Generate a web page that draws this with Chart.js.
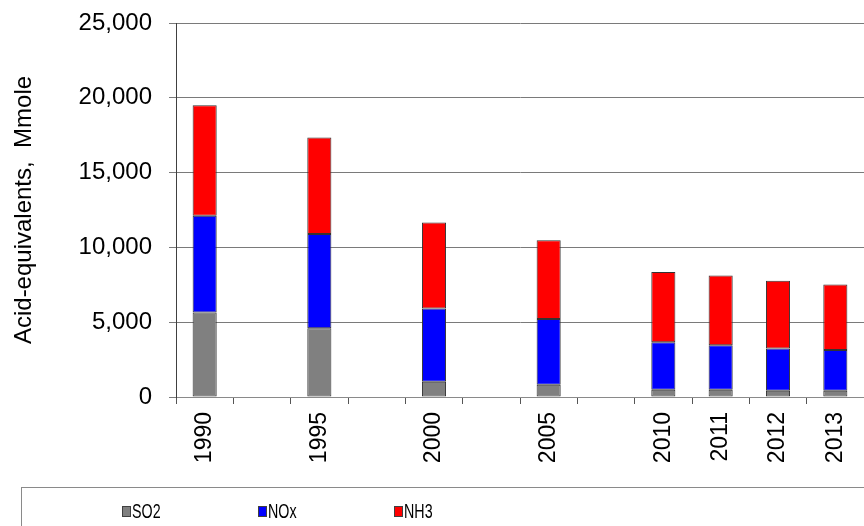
<!DOCTYPE html>
<html lang="en">
<head>
    <meta charset="UTF-8">
    <title>Acid-equivalents</title>
    <script src="https://cdn.jsdelivr.net/npm/chart.js"></script>
    <style>
        body { margin: 0; background: #fff; }
        #wrap { width: 864px; height: 526px; }
    </style>
</head>
<body>
    <div id="wrap"><canvas id="acidChart" width="864" height="526"></canvas></div>

    <script>
        // Categories (blank slots keep the 5-year gaps)
        const years = ['1990', '', '1995', '', '2000', '', '2005', '', '2010', '2011', '2012', '2013'];

        // Series values, Mmole acid-equivalents
        const so2 = [5650, null, 4600, null, 1020, null, 820, null, 490, 480, 420, 410];
        const nox = [6470, null, 6300, null, 4900, null, 4400, null, 3170, 2980, 2815, 2740];
        const nh3 = [7390, null, 6450, null, 5750, null, 5250, null, 4690, 4665, 4535, 4370];

        // y axis tick labels
        const yTickLabels = ['0', '5,000', '10,000', '15,000', '20,000', '25,000'];

        const seriesNames = ['SO2', 'NOx', 'NH3'];
        const seriesColors = ['#808080', '#0000ff', '#ff0000'];

        // legend drawn inside a bordered box under the axis
        const boxLegend = {
            id: 'boxLegend',
            afterDraw(chart) {
                const ctx = chart.ctx;
                ctx.save();
                ctx.strokeStyle = '#8a8a8a';
                ctx.lineWidth = 1;
                ctx.strokeRect(21.5, 487.5, 900, 100);

                chart.data.datasets.forEach((ds, i) => {
                    const x = 122 + i * 136;
                    ctx.fillStyle = ds.backgroundColor;
                    ctx.fillRect(x, 506, 8, 10);
                    ctx.strokeStyle = '#404040';
                    ctx.strokeRect(x + 0.5, 506.5, 8, 10);
                    // narrow lettering like the original
                    ctx.save();
                    ctx.translate(x + 10, 512);
                    ctx.scale(0.68, 1);
                    ctx.font = '21px "Liberation Sans", Arial, sans-serif';
                    ctx.textBaseline = 'middle';
                    ctx.textAlign = 'left';
                    ctx.fillStyle = '#000';
                    ctx.fillText(ds.label, 0, 0);
                    ctx.restore();
                });
                ctx.restore();
            }
        };

        const ctx = document.getElementById('acidChart').getContext('2d');
        const acidChart = new Chart(ctx, {
            type: 'bar',
            data: {
                labels: years,
                datasets: [so2, nox, nh3].map((vals, i) => ({
                    label: seriesNames[i],
                    data: vals,
                    backgroundColor: seriesColors[i],
                    borderColor: '#333',
                    borderWidth: 1,
                    borderSkipped: false,
                    categoryPercentage: 1,
                    barPercentage: 0.42
                }))
            },
            options: {
                responsive: false,
                animation: false,
                layout: { padding: { top: 23, right: 0, bottom: 0, left: 0 } },
                plugins: {
                    legend: { display: false },
                    tooltip: { enabled: false }
                },
                scales: {
                    x: {
                        stacked: true,
                        afterFit: (scale) => {
                            scale.height = 129;
                            scale.paddingLeft = 0;
                            scale.paddingRight = 0;
                        },
                        grid: {
                            drawOnChartArea: false,
                            drawTicks: true,
                            tickLength: 7,
                            color: '#555'
                        },
                        border: { color: '#8a8a8a' },
                        ticks: {
                            autoSkip: false,
                            maxRotation: 90,
                            minRotation: 90,
                            padding: 8,
                            color: '#000',
                            font: { family: '"Liberation Sans", Arial, sans-serif', size: 23 }
                        }
                    },
                    y: {
                        stacked: true,
                        min: 0,
                        max: 25000,
                        afterFit: (scale) => {
                            scale.width = 176;
                            scale.paddingTop = 0;
                            scale.paddingBottom = 0;
                        },
                        grid: {
                            color: '#7a7a7a',
                            tickLength: 7
                        },
                        border: { color: '#404040' },
                        ticks: {
                            stepSize: 5000,
                            padding: 17,
                            color: '#000',
                            font: { family: '"Liberation Sans", Arial, sans-serif', size: 24 },
                            callback: (v) => yTickLabels[v / 5000]
                        },
                        title: {
                            display: true,
                            text: 'Acid-equivalents,  Mmole',
                            color: '#000',
                            padding: { top: 10, bottom: 0 },
                            font: { family: '"Liberation Sans", Arial, sans-serif', size: 24 }
                        }
                    }
                }
            },
            plugins: [boxLegend]
        });
    </script>
</body>
</html>
